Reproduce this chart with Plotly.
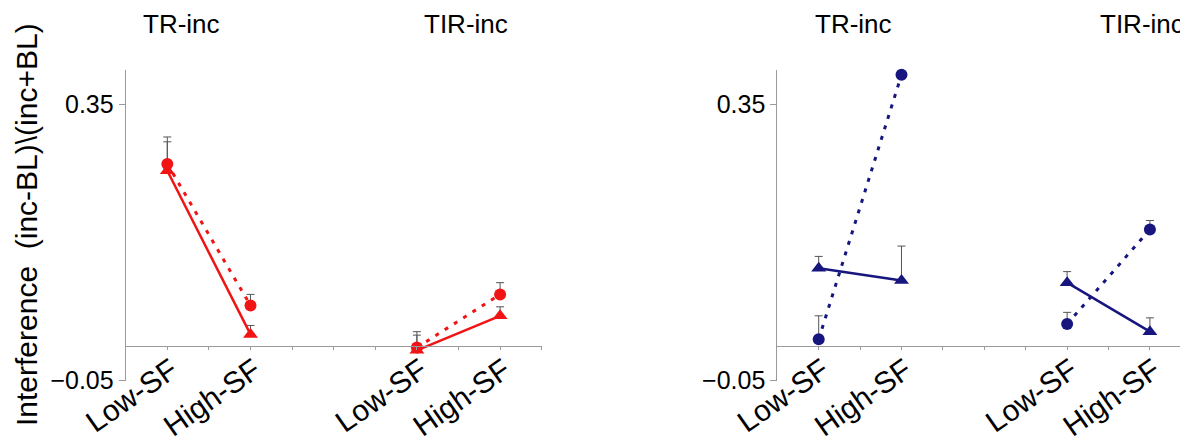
import plotly.graph_objects as go

# ---------------- data ----------------
categories = ["Low-SF", "High-SF"]
groups = ["TR-inc", "TIR-inc"]

# left panel (red)
left_circle = {"TR-inc": [0.264, 0.059], "TIR-inc": [-0.002, 0.075]}
left_circle_err = {"TR-inc": [0.039, 0.016], "TIR-inc": [0.023, 0.017]}
left_tri = {"TR-inc": [0.254, 0.017], "TIR-inc": [-0.006, 0.044]}
left_tri_err = {"TR-inc": [0.042, 0.013], "TIR-inc": [0.022, 0.013]}

# right panel (navy)
right_circle = {"TR-inc": [0.010, 0.393], "TIR-inc": [0.032, 0.169]}
right_circle_err = {"TR-inc": [0.034, 0.013], "TIR-inc": [0.017, 0.013]}
right_tri = {"TR-inc": [0.113, 0.095], "TIR-inc": [0.092, 0.021]}
right_tri_err = {"TR-inc": [0.017, 0.050], "TIR-inc": [0.016, 0.020]}

y_tickvals = [-0.05, 0.35]
y_ticktext = ["\u22120.05", "0.35"]
y_title = "Interference  (inc-BL)\\(inc+BL)"

# ---------------- layout helpers ----------------
OFF = 8                      # default page (body) margin of the html page
FW, FH = 1188 - OFF, 443 - OFF
group_start = {"TR-inc": 1, "TIR-inc": 7}
cat_step = 2
RED = "#f01414"
NAVY = "#16167e"
AXC = "#9a9a9a"
FONT = "Liberation Sans, Arial, sans-serif"


def fx(px):
    return (px - OFF) / FW


def fy(py):
    return 1 - (py - OFF) / FH


def xpos(group):
    return [group_start[group] + i * cat_step for i in range(len(categories))]


fig = go.Figure()

panels = [
    ("x", "y", RED, left_circle, left_circle_err, left_tri, left_tri_err),
    ("x2", "y2", NAVY, right_circle, right_circle_err, right_tri, right_tri_err),
]

for xa, ya, col, circ, circ_e, tri, tri_e in panels:
    for g in groups:
        xs = xpos(g)
        # triangle, solid
        fig.add_trace(go.Scatter(
            x=xs, y=tri[g], xaxis=xa, yaxis=ya, mode="lines+markers",
            line=dict(color=col, width=2.5),
            marker=dict(symbol="triangle-up", size=13, color=col),
            error_y=dict(type="data", symmetric=False, array=tri_e[g],
                         arrayminus=[0] * len(xs), color="#555555",
                         thickness=1, width=4),
            cliponaxis=False, showlegend=False))
        # circle, dotted
        fig.add_trace(go.Scatter(
            x=xs, y=circ[g], xaxis=xa, yaxis=ya, mode="lines+markers",
            line=dict(color=col, width=3, dash="4px,7px"),
            marker=dict(symbol="circle", size=12, color=col),
            error_y=dict(type="data", symmetric=False, array=circ_e[g],
                         arrayminus=[0] * len(xs), color="#555555",
                         thickness=1, width=4),
            cliponaxis=False, showlegend=False))

# tick labels for x axes
tickvals = list(range(1, 11))
ticktext = [""] * 10
for g in groups:
    for c, p in zip(categories, xpos(g)):
        ticktext[p - 1] = c

ydom = [fy(380.7), fy(70)]
xline_pos = fy(346)

xaxis_common = dict(
    anchor="free", position=xline_pos, showline=True, linecolor=AXC,
    linewidth=1, ticks="outside", ticklen=3, tickcolor=AXC,
    tickvals=tickvals, ticktext=ticktext, tickangle=-35,
    ticklabelstandoff=-9, ticklabelshift=4,
    tickfont=dict(size=30, color="black", family=FONT),
    showgrid=False, zeroline=False, automargin=False,
)
yaxis_common = dict(
    range=[-0.05, 0.40], domain=ydom, showline=True, linecolor=AXC,
    linewidth=1, ticks="outside", ticklen=6, tickcolor=AXC,
    tickvals=y_tickvals, ticktext=y_ticktext,
    tickfont=dict(size=25, color="black", family=FONT),
    showgrid=False, zeroline=False, automargin=False,
)

fig.update_layout(
    width=FW, height=FH, margin=dict(l=0, r=0, t=0, b=0, autoexpand=False),
    paper_bgcolor="white", plot_bgcolor="white",
    font=dict(family=FONT, color="black"),
    xaxis=dict(domain=[fx(125.7), fx(541.7)], range=[0, 10], **xaxis_common),
    xaxis2=dict(domain=[fx(777.3), 1.0], range=[0, 9.92], **xaxis_common),
    yaxis=dict(anchor="x", **yaxis_common),
    yaxis2=dict(anchor="x2", **yaxis_common),
)

# group titles
title_pos = [("x", 1.33, "TR-inc"), ("x", 8.18, "TIR-inc"),
             ("x2", 1.83, "TR-inc"), ("x2", 8.81, "TIR-inc")]
for xr, xv, txt in title_pos:
    fig.add_annotation(x=xv, xref=xr, y=fy(24), yref="paper",
                       text=txt, showarrow=False, xanchor="center",
                       yanchor="middle", font=dict(size=26, family=FONT))

# y axis title
fig.add_annotation(x=fx(26), xref="paper", y=fy(225), yref="paper",
                   text=y_title, textangle=-90, showarrow=False,
                   xanchor="center", yanchor="middle", borderpad=0,
                   font=dict(size=30, family=FONT))

fig.write_html("out.html")
